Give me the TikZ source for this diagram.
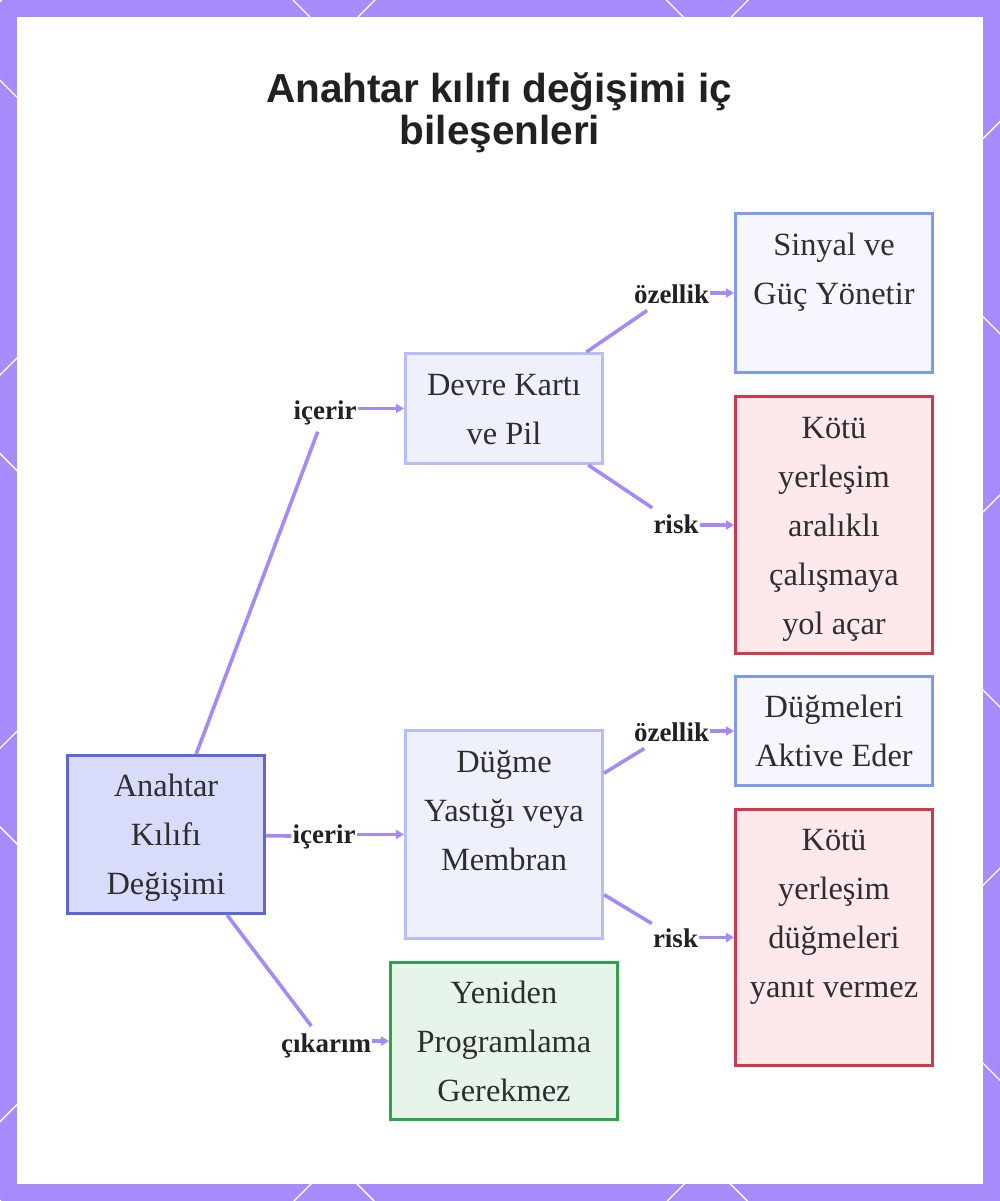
\documentclass[tikz,border=0pt]{standalone}
\usepackage{fontspec}
\setmainfont{Liberation Serif}
\newfontfamily\titlefont{Liberation Sans}
\usetikzlibrary{arrows.meta}
\definecolor{frame}{HTML}{A78BFA}
\definecolor{conn}{HTML}{A58AF7}
\definecolor{txt}{HTML}{2E2E2E}
\definecolor{lbltxt}{HTML}{222222}
\definecolor{rootfill}{HTML}{D8DCFA}
\definecolor{rootdraw}{HTML}{5B68D6}
\definecolor{midfill}{HTML}{EEF0FC}
\definecolor{middraw}{HTML}{B6BEF7}
\definecolor{featfill}{HTML}{F5F6FE}
\definecolor{featdraw}{HTML}{7F9AF0}
\definecolor{riskfill}{HTML}{FDE8EC}
\definecolor{riskdraw}{HTML}{D3394C}
\definecolor{okfill}{HTML}{E6F4E9}
\definecolor{okdraw}{HTML}{2EA34C}
\newcommand{\topstrut}{\rule{0pt}{37pt}}
\begin{document}
\begin{tikzpicture}[x=1pt,y=-1pt,
  titlestyle/.style={font=\titlefont\bfseries\fontsize{40.5}{42}\selectfont, text=black!87, anchor=base, inner sep=0pt},
  box/.style={draw, line width=3pt, inner sep=0pt, align=center, font=\fontsize{32.4}{49}\selectfont, text=txt},
  rootbox/.style={box, fill=rootfill, draw=rootdraw},
  midbox/.style={box, fill=midfill, draw=middraw},
  featbox/.style={box, fill=featfill, draw=featdraw},
  riskbox/.style={box, fill=riskfill, draw=riskdraw},
  okbox/.style={box, fill=okfill, draw=okdraw},
  lbl/.style={font=\bfseries\fontsize{27}{30}\selectfont, text=lbltxt, inner xsep=1pt, inner ysep=7pt, anchor=base},
  edge/.style={draw=conn, line width=3.6pt},
  arr/.style={edge, -{Triangle[length=8pt,width=9pt]}}
]
\useasboundingbox (0,0) rectangle (1000,1201);
\fill[frame] (0,0) rectangle (1000,1201);
\begin{scope}
  \clip (0,0) rectangle (1000,1201);
  \foreach \k in {-4,...,6}{
    \pgfmathsetmacro\a{293+373.3*\k}
    \pgfmathsetmacro\b{375+373.3*\k}
    \draw[white, line width=1.3pt] (\a,0) -- ({\a+1201},1201);
    \draw[white, line width=1.3pt] (\b,0) -- ({\b-1201},1201);
  }
\end{scope}
\fill[white] (17,17) rectangle (983,1184);

% title
\node[titlestyle] (t1) at (499,103) {Anahtar kılıfı değişimi iç};
\node[titlestyle] (t2) at (500,145) {bileşenleri};

% boxes
\node[rootbox, minimum width=197pt, minimum height=158pt] (A) at (166,834.5) {\topstrut Anahtar\\Kılıfı\\Değişimi\strut};
\node[midbox, minimum width=197pt, minimum height=110pt] (B) at (504,408.5) {\topstrut Devre Kartı\\ve Pil\strut};
\node[midbox, minimum width=197pt, minimum height=208pt] (C) at (504,834.5) {\topstrut Düğme\\Yastığı veya\\Membran\\\strut};
\node[okbox, minimum width=227pt, minimum height=157pt] (D) at (504,1041) {\topstrut Yeniden\\Programlama\\Gerekmez\strut};
\node[featbox, minimum width=197pt, minimum height=159pt] (E) at (834,293) {\topstrut Sinyal ve\\Güç Yönetir\\\strut};
\node[riskbox, minimum width=197pt, minimum height=257pt] (F) at (834,525) {\topstrut Kötü\\yerleşim\\aralıklı\\çalışmaya\\yol açar\strut};
\node[featbox, minimum width=197pt, minimum height=109pt] (G) at (834,731) {\topstrut Düğmeleri\\Aktive Eder\strut};
\node[riskbox, minimum width=197pt, minimum height=256pt] (H) at (834,937.5) {\topstrut Kötü\\yerleşim\\düğmeleri\\yanıt vermez\\\strut};

% labels
\node[lbl] (l1) at (325,419) {içerir};
\node[lbl] (l2) at (324,843) {içerir};
\node[lbl] (l3) at (326,1052) {çıkarım};
\node[lbl] (l4) at (671.5,303) {özellik};
\node[lbl] (l5) at (676,533) {risk};
\node[lbl] (l6) at (671.5,741) {özellik};
\node[lbl] (l7) at (675.5,947) {risk};

% connectors
\draw[edge] (A) -- (l1);
\draw[arr] (l1.east |- B.west) -- (B.west);
\draw[edge] (A) -- (l2);
\draw[arr] (l2.east |- C.west) -- (C.west);
\draw[edge] (A) -- (l3);
\draw[arr] (l3.east |- D.west) -- (D.west);
\draw[edge] (B) -- (l4);
\draw[arr] (l4.east |- E.west) -- (E.west);
\draw[edge] (B) -- (l5);
\draw[arr] (l5.east |- F.west) -- (F.west);
\draw[edge] (C) -- (l6);
\draw[arr] (l6.east |- G.west) -- (G.west);
\draw[edge] (C) -- (l7);
\draw[arr] (l7.east |- H.west) -- (H.west);
\end{tikzpicture}
\end{document}
